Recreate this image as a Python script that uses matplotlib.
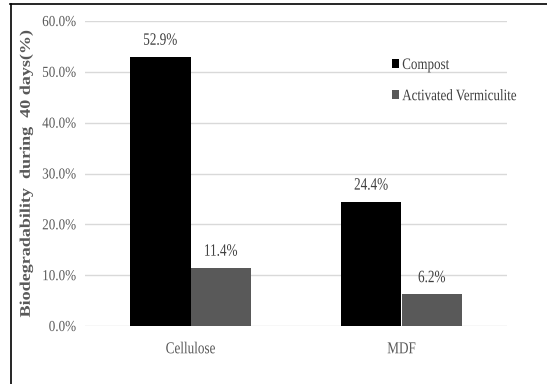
import matplotlib
matplotlib.use("Agg")
import matplotlib.pyplot as plt
from matplotlib.lines import Line2D
from matplotlib.patheffects import AbstractPathEffect
from matplotlib.transforms import Affine2D
import numpy as np

categories = ["Cellulose", "MDF"]
series_names = ["Compost", "Activated Vermiculite"]
compost = [52.9, 24.4]
vermiculite = [11.4, 6.2]
yticks = [0, 10, 20, 30, 40, 50, 60]


class Condense(AbstractPathEffect):
    """Narrow the glyphs of a text (the reference uses a condensed serif face)."""
    def __init__(self, s=0.8, axis='x', anchor='center'):
        super().__init__()
        self.s, self.axis, self.anchor = s, axis, anchor

    def draw_path(self, renderer, gc, tpath, affine, rgbFace=None):
        ext = tpath.get_extents()
        if self.axis == 'x':
            if self.anchor == 'left':
                p = 0.0
            elif self.anchor == 'right':
                p = ext.x1
            else:
                p = (ext.x0 + ext.x1) / 2
            t = Affine2D().translate(-p, 0).scale(self.s, 1).translate(p, 0)
        else:
            p = (ext.y0 + ext.y1) / 2
            t = Affine2D().translate(0, -p).scale(1, self.s).translate(0, p)
        renderer.draw_path(gc, tpath, t + affine, rgbFace)


plt.rcParams['font.family'] = ['Liberation Serif', 'DejaVu Serif']

fig = plt.figure(figsize=(5.47, 3.84), dpi=100)
ax = fig.add_axes([85/547, 1-326/384, (507-85)/547, (326-21)/384])

x = np.arange(len(categories))
w = 0.287
b1 = ax.bar(x - w/2, compost, w, color='#000000', label=series_names[0], zorder=3)
b2 = ax.bar(x + w/2, vermiculite, w, color='#595959', label=series_names[1], zorder=3)

for bars, vals in ((b1, compost), (b2, vermiculite)):
    for r, v in zip(bars, vals):
        ax.annotate(f"{v:.1f}%", (r.get_x() + r.get_width()/2, v),
                    xytext=(0, 6), textcoords='offset points',
                    ha='center', va='bottom', fontsize=12.5, color='#404040',
                    path_effects=[Condense(0.76, 'x', 'center')])

ax.set_xlim(-0.5, 1.5)
ax.set_ylim(0, 60)
ax.set_yticks(yticks)
ax.set_yticklabels([f"{t:.1f}%" for t in yticks],
                   path_effects=[Condense(0.86, 'x', 'right')])
ax.set_xticks(x)
ax.set_xticklabels(categories, path_effects=[Condense(0.79, 'x', 'center')])
ax.tick_params(axis='both', length=0, labelcolor='#595959')
ax.tick_params(axis='y', labelsize=11, pad=6.5)
ax.tick_params(axis='x', labelsize=12, pad=11)
ax.grid(axis='y', color='#d9d9d9', linewidth=1, zorder=0)
for s in ax.spines.values():
    s.set_visible(False)

ylab = ax.set_ylabel("Biodegradability  during  40 days(%)", fontsize=13,
                     fontweight='bold', color='#595959',
                     path_effects=[Condense(0.82, 'y')])
ylab.set_verticalalignment('center')
ax.yaxis.set_label_coords((26-85)/422, (326-174)/305)

leg = fig.legend(handles=[b1, b2], labels=series_names, loc='upper left',
                 bbox_to_anchor=(392/547, 1-57/384), frameon=False,
                 handlelength=0.42, handleheight=0.55, handletextpad=0.22,
                 labelspacing=0.95, borderpad=0, borderaxespad=0,
                 fontsize=11.5)
for t in leg.get_texts():
    t.set_color('#404040')
    t.set_path_effects([Condense(0.815, 'x', 'left')])

fig.add_artist(Line2D([10.5/547, 10.5/547], [0, 1-3.5/384], transform=fig.transFigure,
                      color='black', linewidth=1.2))
fig.add_artist(Line2D([10/547, 1], [1-3.5/384, 1-3.5/384], transform=fig.transFigure,
                      color='black', linewidth=1.2))

fig.savefig("out.png", dpi=100)
